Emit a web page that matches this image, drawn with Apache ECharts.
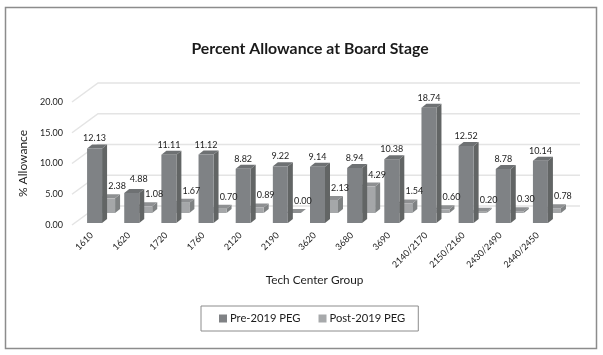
<!DOCTYPE html>
<html>
<head>
<meta charset="utf-8">
<style>
  html, body { margin: 0; padding: 0; background: #fff; }
  #chart { width: 603px; height: 355px; }
</style>
<script src="https://cdn.jsdelivr.net/npm/echarts@6/dist/echarts.min.js"></script>
</head>
<body>
<div id="chart"></div>
<script>
const categories = ['1610', '1620', '1720', '1760', '2120', '2190', '3620', '3680', '3690', '2140/2170', '2150/2160', '2430/2490', '2440/2450']
const prePeg = [12.13, 4.88, 11.11, 11.12, 8.82, 9.22, 9.14, 8.94, 10.38, 18.74, 12.52, 8.78, 10.14]
const postPeg = [2.38, 1.08, 1.67, 0.70, 0.89, 0.00, 2.13, 4.29, 1.54, 0.60, 0.20, 0.30, 0.78]
const yTicks = [0, 5, 10, 15, 20]

const font = 'Lato'
const textColor = '#1c1c1c'

const barWidth = 15
const depthX = 5
const depthY = 4
const preShape = { dx: -7.5, dy: -2, labelDx: 0, labelDy: 6 }
const postShape = { dx: 5.5, dy: -12, labelDx: 9.5, labelDy: 8 }

// draws one fake 3d bar, dy moves it back along the floor
function bar3d(api, o) {
  const top = api.coord([api.value(0), api.value(1)])
  const base = api.coord([api.value(0), 0])
  const x = top[0] + o.dx
  const w = barWidth
  const d = depthX
  const e = depthY
  const y0 = base[1] + o.dy
  const y1 = top[1] + o.dy
  return {
    type: 'group',
    children: [
      { type: 'polygon', shape: { points: [[x + w, y1], [x + w + d, y1 - e], [x + w + d, y0 - e], [x + w, y0]] }, style: { fill: o.side } },
      { type: 'polygon', shape: { points: [[x, y1], [x + d, y1 - e], [x + w + d, y1 - e], [x + w, y1]] }, style: { fill: o.top } },
      { type: 'rect', shape: { x: x, y: y1, width: w, height: y0 - y1 }, style: { fill: o.front } }
    ]
  }
}

// labels go in their own series so the next bar never covers them
function barLabel(api, o) {
  const top = api.coord([api.value(0), api.value(1)])
  // the 4.88 label sits off to the right in the original, clear of 2.38
  const nudge = o.nudge && o.nudge[api.value(0)] || [0, 0]
  return {
    type: 'text',
    style: {
      x: top[0] + o.dx + barWidth / 2 + o.labelDx + nudge[0],
      y: top[1] + o.dy - depthY - o.labelDy + nudge[1],
      text: api.value(1).toFixed(2),
      font: '9px ' + font,
      fill: textColor,
      align: 'center',
      verticalAlign: 'middle'
    }
  }
}

const chart = echarts.init(document.getElementById('chart'))

chart.setOption({
  animation: false,
  backgroundColor: '#fff',
  title: {
    text: 'Percent Allowance at Board Stage',
    left: 305,
    top: 36,
    textAlign: 'center',
    textStyle: { fontFamily: font, fontSize: 15.8, fontWeight: 'bold', color: '#1a1a1a' }
  },
  legend: {
    left: 201,
    top: 306,
    padding: [7, 13, 7, 18],
    itemWidth: 8,
    itemHeight: 8,
    itemGap: 18,
    icon: 'rect',
    borderColor: '#8c8c8c',
    borderWidth: 1,
    data: ['Pre-2019 PEG', 'Post-2019 PEG'],
    textStyle: { fontFamily: font, fontSize: 11.2, color: textColor, padding: [0, 0, 0, -2] }
  },
  grid: { left: 76, right: 44, top: 102, height: 123 },
  xAxis: {
    type: 'category',
    data: categories,
    name: 'Tech Center Group',
    nameLocation: 'middle',
    nameGap: 49,
    nameTextStyle: { fontFamily: font, fontSize: 11.8, color: textColor, padding: [0, 6, 0, 0] },
    axisLine: { show: false },
    axisTick: { show: false },
    axisLabel: { interval: 0, rotate: 45, margin: 6, padding: [0, 4, 0, 0], fontFamily: font, fontSize: 9, color: textColor }
  },
  yAxis: {
    type: 'value',
    min: 0,
    max: 20,
    interval: 5,
    name: '% Allowance',
    nameLocation: 'middle',
    nameGap: 38,
    nameTextStyle: { fontFamily: font, fontSize: 12, color: textColor },
    axisLine: { show: false },
    axisTick: { show: false },
    splitLine: { show: false },
    axisLabel: { margin: 13, fontFamily: font, fontSize: 9, color: textColor, formatter: v => v.toFixed(2) }
  },
  series: [
    {
      // back wall lines
      type: 'custom',
      silent: true,
      data: yTicks.map(t => [0, t]),
      renderItem(params, api) {
        const y = api.coord([0, api.value(1)])[1]
        const left = params.coordSys.x - 4
        const right = params.coordSys.x + params.coordSys.width + 21
        return {
          type: 'polyline',
          shape: { points: [[left, y], [left + 26, y - 19], [right, y - 19]] },
          style: { fill: 'none', stroke: '#e4e4e4', lineWidth: 1.5 }
        }
      }
    },
    {
      name: 'Post-2019 PEG',
      type: 'custom',
      itemStyle: { color: '#a7a9ab' },
      data: postPeg.map((v, i) => [i, v]),
      renderItem(params, api) {
        return bar3d(api, { ...postShape, front: '#a5a7a9', side: '#7f8283', top: '#8e9092' })
      }
    },
    {
      name: 'Pre-2019 PEG',
      type: 'custom',
      itemStyle: { color: '#808285' },
      data: prePeg.map((v, i) => [i, v]),
      renderItem(params, api) {
        return bar3d(api, { ...preShape, front: '#7f8285', side: '#626565', top: '#6e7173' })
      }
    },
    {
      type: 'custom',
      silent: true,
      data: postPeg.map((v, i) => [i, v]),
      renderItem(params, api) {
        return barLabel(api, postShape)
      }
    },
    {
      type: 'custom',
      silent: true,
      data: prePeg.map((v, i) => [i, v]),
      renderItem(params, api) {
        return barLabel(api, { ...preShape, nudge: { 1: [7, -4] } })
      }
    }
  ],
  graphic: [
    {
      type: 'rect',
      silent: true,
      z: -1,
      shape: { x: 5.5, y: 7.5, width: 591, height: 341 },
      style: { fill: 'none', stroke: '#8c8c8c', lineWidth: 1.5 }
    }
  ]
})
</script>
</body>
</html>
